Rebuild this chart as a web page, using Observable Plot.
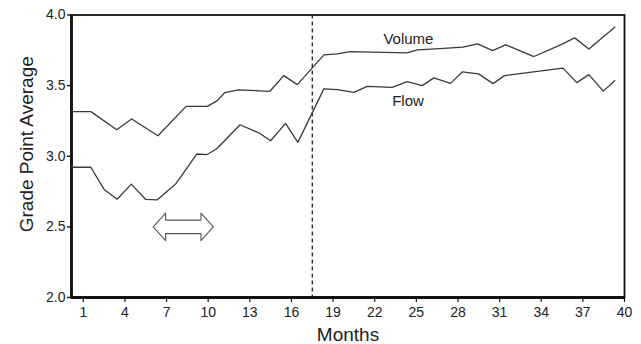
<!DOCTYPE html>
<html>
<head>
<meta charset="utf-8">
<script src="https://cdn.jsdelivr.net/npm/d3@7"></script>
<script src="https://cdn.jsdelivr.net/npm/@observablehq/plot@0.6"></script>
<style>
  html, body { margin: 0; padding: 0; background: #fff; }
  #chart svg { display: block; }
</style>
</head>
<body>
<div id="chart"></div>
<script>
// ---- data ----
const volumeMonths = [0.15, 1.55, 3.41, 4.48, 6.38, 8.41, 9.94, 10.66, 11.18, 12.19, 14.45, 15.45, 16.42, 18.34, 19.3, 20.26, 24.34, 25.06, 26.38, 28.36, 29.41, 30.5, 31.43, 33.47, 35.39, 36.41, 37.43, 39.3];
const volumeGPA    = [3.316, 3.316, 3.188, 3.264, 3.145, 3.353, 3.353, 3.394, 3.45, 3.47, 3.46, 3.571, 3.507, 3.718, 3.725, 3.741, 3.732, 3.753, 3.76, 3.772, 3.796, 3.748, 3.789, 3.706, 3.789, 3.838, 3.76, 3.913];
const flowMonths   = [0.15, 1.54, 2.51, 3.44, 4.46, 5.5, 6.32, 7.65, 9.19, 9.88, 10.6, 12.3, 13.7, 14.5, 15.58, 16.46, 18.34, 19.3, 20.5, 21.46, 23.26, 24.34, 25.42, 26.26, 27.46, 28.31, 29.48, 30.53, 31.35, 35.57, 36.56, 37.43, 38.47, 39.3];
const flowGPA      = [2.922, 2.922, 2.764, 2.696, 2.803, 2.694, 2.691, 2.803, 3.016, 3.011, 3.051, 3.223, 3.163, 3.11, 3.233, 3.098, 3.477, 3.472, 3.452, 3.495, 3.488, 3.528, 3.5, 3.555, 3.516, 3.597, 3.583, 3.514, 3.571, 3.624, 3.521, 3.578, 3.461, 3.535];
const seriesNames  = ["Volume", "Flow"];
const labelMonths  = [24.43, 24.4];
const labelGPA     = [3.826, 3.39];
const xTicks = [1, 4, 7, 10, 13, 16, 19, 22, 25, 28, 31, 34, 37, 40];
const yTicks = [2.0, 2.5, 3.0, 3.5, 4.0];
const xDomain = [0.15, 40];
const yDomain = [2, 4];
const phaseChangeMonth = [17.5];
const arrowFrom = 6.04, arrowTo = 10.37, arrowLevel = 2.5;
const xTitle = "Months";
const yTitle = "Grade Point Average";

// ---- build tables ----
const volume = volumeMonths.map((m, i) => ({month: m, gpa: volumeGPA[i]}));
const flow = flowMonths.map((m, i) => ({month: m, gpa: flowGPA[i]}));
const labels = seriesNames.map((s, i) => ({name: s, month: labelMonths[i], gpa: labelGPA[i]}));

// hollow double-headed block arrow outline (in data units)
const headLen = 0.89, headHalf = 0.098, shaftHalf = 0.048;
const arrowPts = [
  [arrowFrom, arrowLevel],
  [arrowFrom + headLen, arrowLevel + headHalf],
  [arrowFrom + headLen, arrowLevel + shaftHalf],
  [arrowTo - headLen, arrowLevel + shaftHalf],
  [arrowTo - headLen, arrowLevel + headHalf],
  [arrowTo, arrowLevel],
  [arrowTo - headLen, arrowLevel - headHalf],
  [arrowTo - headLen, arrowLevel - shaftHalf],
  [arrowFrom + headLen, arrowLevel - shaftHalf],
  [arrowFrom + headLen, arrowLevel - headHalf],
  [arrowFrom, arrowLevel]
].map(([month, gpa]) => ({month, gpa}));

const font = "'Liberation Sans', Arial, Helvetica, sans-serif";

const chart = Plot.plot({
  width: 641,
  height: 344,
  marginLeft: 71,
  marginRight: 17,
  marginTop: 14.5,
  marginBottom: 47,
  style: {fontFamily: font, background: "#fff", color: "#111"},
  x: {domain: xDomain},
  y: {domain: yDomain},
  marks: [
    Plot.axisX({ticks: xTicks, tickSize: 5, tickPadding: 5, fontSize: 14, label: null, stroke: "#111", strokeWidth: 1.2, fill: "#222"}),
    Plot.axisY({ticks: yTicks, tickSize: 4, tickPadding: 2, fontSize: 14, label: null, tickFormat: d3.format(".1f"), stroke: "#111", strokeWidth: 1.4, fill: "#222"}),
    Plot.frame({stroke: "#111", strokeWidth: 1.8}),
    Plot.ruleX([xDomain[0]], {stroke: "#111", strokeWidth: 2.8}),
    Plot.ruleY([yDomain[0]], {stroke: "#111", strokeWidth: 2.8}),
    Plot.ruleX(phaseChangeMonth, {stroke: "#111", strokeWidth: 1.2, strokeDasharray: "4,3"}),
    Plot.line(volume, {x: "month", y: "gpa", stroke: "#3a3a3a", strokeWidth: 1.3}),
    Plot.line(flow, {x: "month", y: "gpa", stroke: "#3a3a3a", strokeWidth: 1.3}),
    Plot.line(arrowPts, {x: "month", y: "gpa", stroke: "#555", strokeWidth: 1.1, curve: "linear"}),
    Plot.text(labels, {x: "month", y: "gpa", text: "name", fontSize: 15, fill: "#222", textAnchor: "middle"}),
    Plot.text([xTitle], {frameAnchor: "bottom", dy: 43.5, fontSize: 19, fill: "#222", textAnchor: "middle"}),
    Plot.text([yTitle], {frameAnchor: "left", dx: -45, dy: -12, rotate: -90, fontSize: 19, fill: "#222", textAnchor: "middle"})
  ]
});
document.getElementById("chart").appendChild(chart);
</script>
</body>
</html>
